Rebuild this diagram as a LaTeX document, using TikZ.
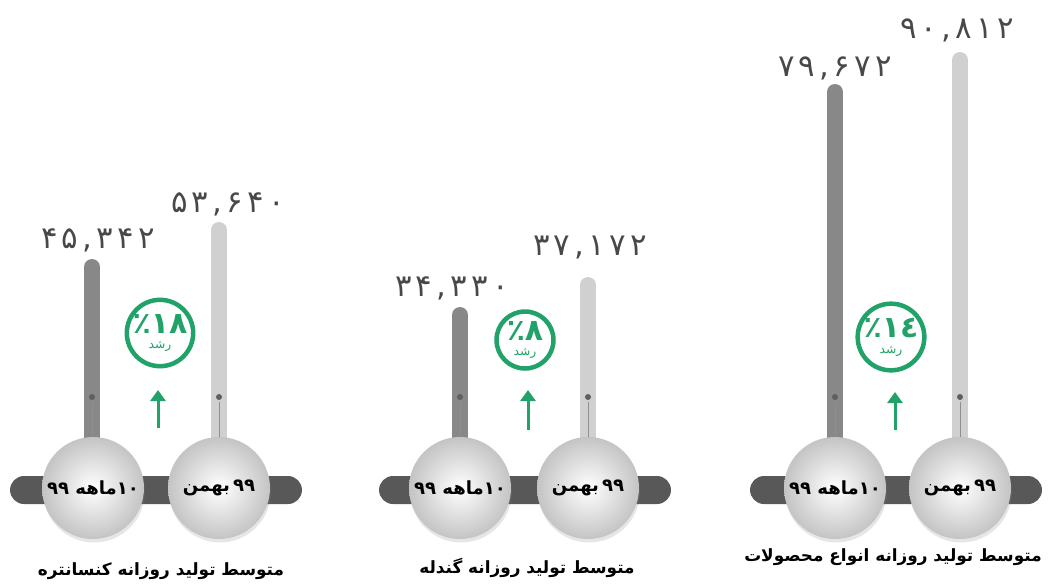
\documentclass[tikz,border=0pt]{standalone}
\usepackage{fontspec}
\newfontfamily\arabicfont[Script=Arabic]{DejaVu Sans}
\newfontfamily\valuefont[LetterSpace=14]{DejaVu Sans}
\TeXXeTstate=1
\usetikzlibrary{shadows}
\usetikzlibrary{arrows.meta}
\definecolor{growgreen}{RGB}{32,162,104}
\definecolor{bardark}{RGB}{136,136,136}
\definecolor{barlight}{RGB}{208,208,208}
\definecolor{bardot}{RGB}{95,95,95}
\definecolor{trackgray}{RGB}{88,88,88}
\definecolor{valgray}{RGB}{72,72,72}
\definecolor{knobedge}{RGB}{196,196,196}
\tikzset{
    valbar/.style = {line width=0.32cm,line cap=round},
    darkbar/.style = {valbar,draw=bardark},
    lightbar/.style = {valbar,draw=barlight},
    barmark/.style = {draw=bardot!70,line width=0.5pt},
    track/.style = {rectangle,rounded corners=0.28cm,fill=trackgray,minimum width=5.84cm,minimum height=0.56cm},
    knob/.style = {circle,minimum size=2.04cm,inner sep=0pt,shading=radial,inner color=white,outer color=knobedge,
                   drop shadow={opacity=0.2,shadow yshift=-0.07cm,shadow xshift=0.02cm}},
    knobtext/.style = {inner sep=0pt,font=\arabicfont\bfseries\fontsize{10.3}{13}\selectfont},
    badge/.style = {circle,draw=growgreen,line width=0.09cm,minimum size=1.14cm,inner sep=0pt,align=center,
                    text=growgreen,font=\arabicfont\bfseries\fontsize{17}{13}\selectfont},
    value/.style = {text=valgray,font=\valuefont\fontsize{17.5}{20}\selectfont},
    title/.style = {font=\arabicfont\bfseries\fontsize{9.6}{12}\selectfont},
    growarrow/.style = {-{Triangle[width=0.3cm,length=0.22cm]},line width=0.06cm,growgreen}
}
\newcommand{\smallword}[1]{{\mdseries\fontsize{7}{7}\selectfont #1}}
\newcommand{\tenmonth}{\mbox{۹۹}\ \mbox{ماهه}\mbox{۱۰}}
\newcommand{\bahman}{\mbox{بهمن}\,\mbox{۹۹}}

\begin{document}
\begin{tikzpicture}[x=0.02cm,y=-0.02cm]
\useasboundingbox (0,0) rectangle (1048,583);
%
% tracks behind the knobs
\node[track] (k1) at (156,490) {};
\node[track] (k2) at (525,490) {};
\node[track] (k3) at (896,490) {};
%
% bar tops and knob centres
\coordinate (t1a) at (92,267);  \coordinate (c1a) at (93,488);
\coordinate (t1b) at (219,230); \coordinate (c1b) at (219,488);
\coordinate (t2a) at (460,315); \coordinate (c2a) at (460,488);
\coordinate (t2b) at (588,285); \coordinate (c2b) at (588,488);
\coordinate (t3a) at (835,92);  \coordinate (c3a) at (835,488);
\coordinate (t3b) at (960,60);  \coordinate (c3b) at (960,488);
%
\draw[darkbar] (t1a) -- (t1a |- c1a);
\draw[lightbar] (t1b) -- (c1b);
\draw[darkbar] (t2a) -- (c2a);
\draw[lightbar] (t2b) -- (c2b);
\draw[darkbar] (t3a) -- (c3a);
\draw[lightbar] (t3b) -- (c3b);
%
% small marks on the bars
\foreach \b in {1a,1b,2a,2b,3a,3b}{
  \fill[bardot] (t\b |- 0,397) circle (3);
  \draw[barmark] (t\b |- 0,402) -- (t\b |- 0,438);
}
%
% knobs
\node[knob] (m1a) at (c1a) {};
\node[knob] (m1b) at (c1b) {};
\node[knob] (m2a) at (c2a) {};
\node[knob] (m2b) at (c2b) {};
\node[knob] (m3a) at (c3a) {};
\node[knob] (m3b) at (c3b) {};
\node[knobtext] (l1a) at (m1a) {\tenmonth};
\node[knobtext] (l1b) at (m1b) {\bahman};
\node[knobtext] (l2a) at (m2a) {\tenmonth};
\node[knobtext] (l2b) at (m2b) {\bahman};
\node[knobtext] (l3a) at (m3a) {\tenmonth};
\node[knobtext] (l3b) at (m3b) {\bahman};
%
% values
\node[value] (v1a) at (98,240) {۴۵,۳۴۲};
\node[value] (v1b) at (228,204) {۵۳,۶۴۰};
\node[value] (v2a) at (452,288) {۳۴,۳۳۰};
\node[value] (v2b) at (590,248) {۳۷,۱۷۲};
\node[value] (v3a) at (835,68) {۷۹,۶۷۲};
\node[value] (v3b) at (957,30) {۹۰,۸۱۲};
%
% growth badges and arrows
\node[badge] (g1) at (160,333) {٪۱۸\\[-4pt]\smallword{رشد}};
\node[badge] (g2) at (525,340) {٪۸\\[-4pt]\smallword{رشد}};
\node[badge] (g3) at (891,337) {٪۱٤\\[-4pt]\smallword{رشد}};
\coordinate (a1) at (158,428); \coordinate (h1) at (158,390);
\coordinate (a2) at (528,430); \coordinate (h2) at (528,390);
\coordinate (a3) at (895,430); \coordinate (h3) at (895,392);
\draw[growarrow] (a1) -- (h1);
\draw[growarrow] (a2) -- (h2);
\draw[growarrow] (a3) -- (h3);
%
% titles
\node[title] (n1) at (161,571) {\beginR متوسط تولید روزانه کنسانتره\endR};
\node[title] (n2) at (527,568) {\beginR متوسط تولید روزانه گندله\endR};
\node[title] (n3) at (893,557) {\beginR متوسط تولید روزانه انواع محصولات\endR};

\end{tikzpicture}
\end{document}
